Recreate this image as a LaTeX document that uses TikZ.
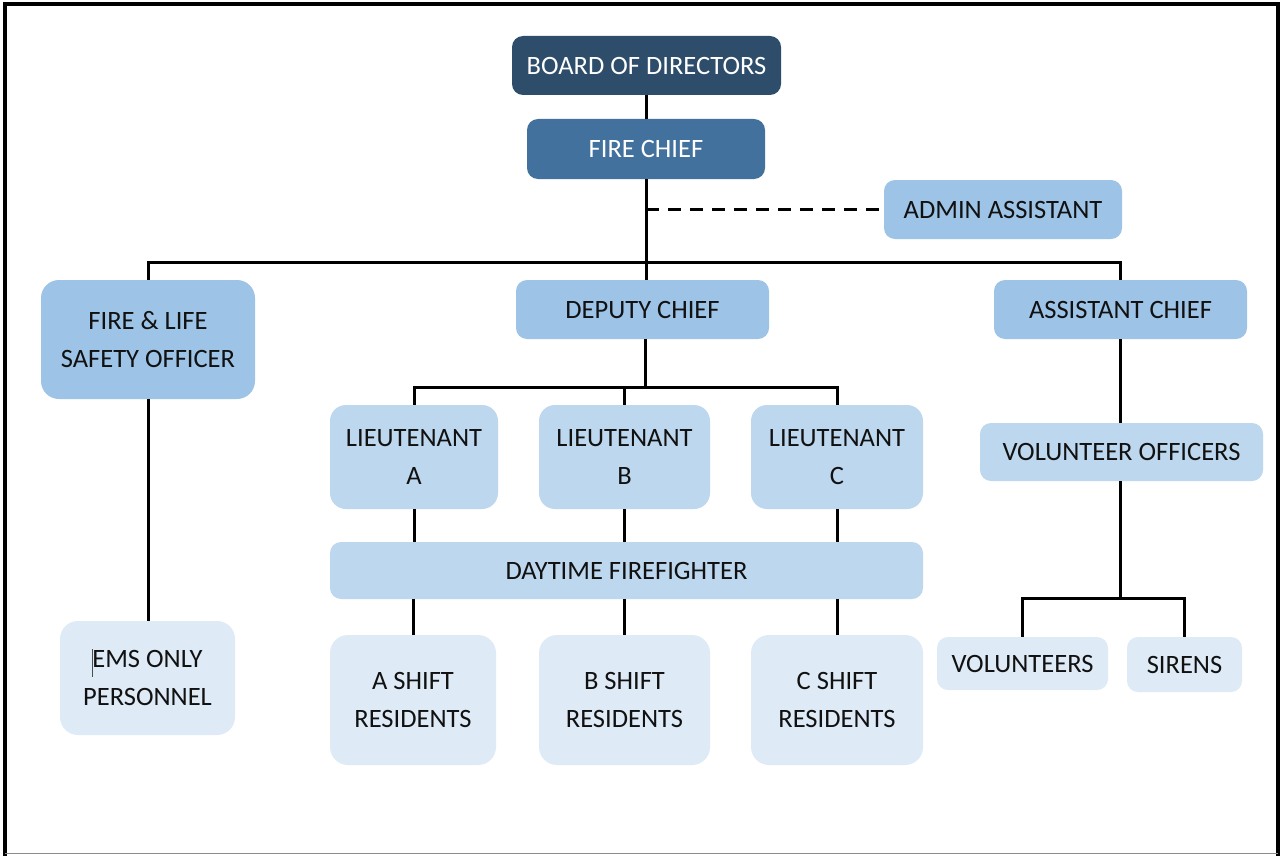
\documentclass[tikz,border=0pt]{standalone}
\usepackage{fontspec}
\setmainfont{Carlito}
\definecolor{cdark}{HTML}{2E4D6B}
\definecolor{cchief}{HTML}{41719C}
\definecolor{cmid}{HTML}{9DC3E6}
\definecolor{clight}{HTML}{BDD7EE}
\definecolor{cpale}{HTML}{DEEBF7}
\definecolor{ctext}{HTML}{111111}
\tikzset{
  box/.style={rounded corners=11pt, inner sep=0pt, align=center, text=ctext,
    font=\fontsize{26.5}{38}\selectfont},
  darkbox/.style={box, fill=cdark, text=white},
  chiefbox/.style={box, fill=cchief, text=white},
  midbox/.style={box, fill=cmid},
  lightbox/.style={box, fill=clight},
  palebox/.style={box, fill=cpale},
  link/.style={line width=3pt, black},
  dotlink/.style={line width=3pt, black, dash pattern=on 13pt off 9pt},
}
\begin{document}
\begin{tikzpicture}[x=1pt,y=-1pt]
\useasboundingbox (0,0) rectangle (1281,856);
\fill[white] (0,0) rectangle (1281,856);
% frame
\draw[line width=3.5pt, black] (5,856) -- (5,4) -- (1278,4) -- (1278,856);
\draw[line width=1.5pt, black!45] (5,853.5) -- (1278,853.5);

% nodes
\node[darkbox, minimum width=269pt, minimum height=59pt] (board) at (646.5,65.5) {BOARD OF DIRECTORS};
\node[chiefbox, minimum width=238pt, minimum height=60pt] (chief) at (646,149) {FIRE CHIEF};
\node[midbox, minimum width=238pt, minimum height=59pt] (admin) at (1003,209.5) {ADMIN ASSISTANT};
\node[midbox, rounded corners=18pt, minimum width=214pt, minimum height=119pt] (fls) at (148,339.5) {FIRE \& LIFE\\SAFETY OFFICER};
\node[midbox, minimum width=253pt, minimum height=59pt] (deputy) at (642.5,309.5) {DEPUTY CHIEF};
\node[midbox, minimum width=253pt, minimum height=59pt] (asst) at (1120.5,309.5) {ASSISTANT CHIEF};
\node[lightbox, rounded corners=16pt, minimum width=168pt, minimum height=104pt] (ltA) at (414,457) {LIEUTENANT\\A};
\node[lightbox, rounded corners=16pt, minimum width=171pt, minimum height=104pt] (ltB) at (624.5,457) {LIEUTENANT\\B};
\node[lightbox, rounded corners=16pt, minimum width=172pt, minimum height=104pt] (ltC) at (837,457) {LIEUTENANT\\C};
\node[lightbox, minimum width=593pt, minimum height=57pt] (day) at (626.5,570.5) {DAYTIME FIREFIGHTER};
\node[palebox, rounded corners=18pt, minimum width=166pt, minimum height=130pt] (shA) at (413,700) {A SHIFT\\RESIDENTS};
\node[palebox, rounded corners=18pt, minimum width=171pt, minimum height=130pt] (shB) at (624.5,700) {B SHIFT\\RESIDENTS};
\node[palebox, rounded corners=18pt, minimum width=172pt, minimum height=130pt] (shC) at (837,700) {C SHIFT\\RESIDENTS};
\node[lightbox, minimum width=283pt, minimum height=58pt] (volof) at (1121.5,452) {VOLUNTEER OFFICERS};
\node[palebox, minimum width=171pt, minimum height=53pt] (vols) at (1022.5,663.5) {VOLUNTEERS};
\node[palebox, minimum width=115pt, minimum height=55pt] (sirens) at (1184.5,664.5) {SIRENS};
\node[palebox, rounded corners=18pt, minimum width=175pt, minimum height=114pt] (ems) at (147.5,678) {EMS ONLY\\PERSONNEL};
\draw[line width=1pt, black!70] (92,649) -- (92,677);

% connectors
\coordinate (b1) at (646,262);
\coordinate (b2) at (645,387);
\coordinate (b3) at (1120,598);
\draw[link] (board.south) -- (board.south |- chief.north);
\draw[link] (chief.south) -- (chief.south |- deputy.north);
\draw[dotlink] (chief.south |- admin.west) -- (admin.west);
\draw[link] (fls.north) |- (b1) -| (asst.north);
\draw[link] (b2 |- deputy.south) -- (b2);
\draw[link] (ltA.north) |- (b2) -| (ltC.north);
\draw[link] (ltB.north) -- (ltB.north |- b2);
\foreach \n in {A,B,C} {
  \draw[link] (lt\n.south) -- (lt\n.south |- day.north);
  \draw[link] (day.south -| sh\n.north) -- (sh\n.north);
}
\draw[link] (asst.south) -- (asst.south |- volof.north);
\draw[link] (b3 |- volof.south) -- (b3);
\draw[link] (vols.north) |- (b3) -| (sirens.north);
\draw[link] (fls.south) -- (fls.south |- ems.north);
\end{tikzpicture}
\end{document}
